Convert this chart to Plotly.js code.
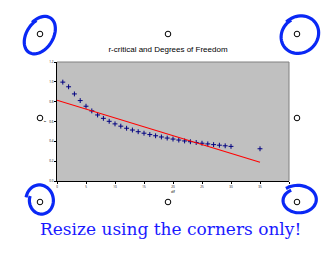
<!DOCTYPE html>
<html><head><meta charset="utf-8">
<script src="https://cdn.plot.ly/plotly-3.0.1.min.js"></script>
<style>html,body{margin:0;padding:0;background:#fff;}#chart{width:336px;height:254px;}</style>
</head><body><div id="chart"></div>
<script>
// Data
var df = [1,2,3,4,5,6,7,8,9,10,11,12,13,14,15,16,17,18,19,20,21,22,23,24,25,26,27,28,29,30,35];
var rCritical = [0.997,0.950,0.878,0.811,0.754,0.707,0.666,0.632,0.602,0.576,0.553,0.532,0.514,0.497,0.482,0.468,0.456,0.444,0.433,0.423,0.413,0.404,0.396,0.388,0.381,0.374,0.367,0.361,0.355,0.349,0.325];
var trendX = [0, 35];
var trendY = [0.815, 0.19];
var xTicks = [0,5,10,15,20,25,30,35,40];
var yTicks = [0,0.2,0.4,0.6,0.8,1,1.2];

var L=57, T=62, W=232, H=119, WIDTH=336, HEIGHT=254;
function px(x){return (x-L)/W;}
function py(y){return (T+H-y)/H;}

var shapes = [];
shapes.push({type:'line',xref:'paper',yref:'paper',x0:0,x1:1,y0:1,y1:1,line:{color:'#808080',width:1}});
shapes.push({type:'line',xref:'paper',yref:'paper',x0:1,x1:1,y0:0,y1:1,line:{color:'#808080',width:1}});
var handles = [[40,34],[168,34],[297,34],[40,118],[297,118],[40,202],[168,202],[297,202]];
handles.forEach(function(h){
  shapes.push({type:'circle',xref:'paper',yref:'paper',layer:'above',
    x0:px(h[0]-2.8),x1:px(h[0]+2.8),y0:py(h[1]+2.8),y1:py(h[1]-2.8),
    line:{color:'#000',width:1},fillcolor:'#fff'});
});
function loop(cx,cy,a,b,ang,start,sweep,grow){
  var p='', n=60, r=ang*Math.PI/180;
  for(var i=0;i<=n;i++){
    var f=i/n, t=(start+sweep*f)*Math.PI/180, k=1+grow*f;
    var ex=a*k*Math.cos(t), ey=b*k*Math.sin(t);
    var x=cx+ex*Math.cos(r)-ey*Math.sin(r);
    var y=cy+ex*Math.sin(r)+ey*Math.cos(r);
    p+=(i===0?'M':'L')+px(x).toFixed(4)+','+py(y).toFixed(4)+' ';
  }
  return p;
}
var blue='#0a28f5';
shapes.push({type:'path',xref:'paper',yref:'paper',layer:'above',path:loop(39.5,35.5,21,14,-58,-70,375,-0.08),line:{color:blue,width:3.2}});
shapes.push({type:'path',xref:'paper',yref:'paper',layer:'above',path:loop(299.5,35,20.5,18.5,-40,-95,375,-0.08),line:{color:blue,width:3.2}});
shapes.push({type:'path',xref:'paper',yref:'paper',layer:'above',path:loop(40.5,200.5,14.5,16.5,-10,-160,370,-0.25),line:{color:blue,width:3.2}});
shapes.push({type:'path',xref:'paper',yref:'paper',layer:'above',path:loop(298.5,200,19.5,15,0,-130,370,-0.25),line:{color:blue,width:3.2}});

var traces = [
  {x:df,y:rCritical,type:'scatter',mode:'markers',cliponaxis:false,
   marker:{symbol:'cross-thin',size:3.5,color:'#000080',line:{color:'#000080',width:1}}},
  {x:trendX,y:trendY,type:'scatter',mode:'lines',line:{color:'#ff0000',width:1.1}}
];

var layout = {
  width:WIDTH,height:HEIGHT,showlegend:false,
  margin:{l:L,r:WIDTH-L-W,t:T,b:HEIGHT-T-H,pad:0},
  paper_bgcolor:'#fff',plot_bgcolor:'#c0c0c0',
  title:{text:'r-critical and Degrees of Freedom',font:{family:'Liberation Sans, Arial',size:8,color:'#000'},x:0.5,xanchor:'center',y:1-49/HEIGHT,yanchor:'middle'},
  xaxis:{range:[0,40],tickvals:xTicks,ticktext:xTicks.map(String),showgrid:false,zeroline:false,
    showline:true,linecolor:'#000',linewidth:1,ticks:'outside',ticklen:2,tickcolor:'#000',
    tickfont:{size:3,color:'#000'},title:{text:'df',font:{size:4,color:'#000'},standoff:2}},
  yaxis:{range:[0,1.2],tickvals:yTicks,ticktext:yTicks.map(function(v){return v.toFixed(1);}),showgrid:false,zeroline:false,
    showline:true,linecolor:'#000',linewidth:1,ticks:'outside',ticklen:2,tickcolor:'#000',
    tickfont:{size:3,color:'#000'},title:{text:'r',font:{size:4,color:'#000'},standoff:2}},
  shapes:shapes,
  annotations:[{xref:'paper',yref:'paper',x:px(170.5),y:py(229),xanchor:'center',yanchor:'middle',showarrow:false,
    text:'Resize using the corners only!',font:{family:'DejaVu Serif, serif',size:17,color:'#1a1aff'}}]
};
Plotly.newPlot('chart',traces,layout,{staticPlot:true,displayModeBar:false});
</script></body></html>
